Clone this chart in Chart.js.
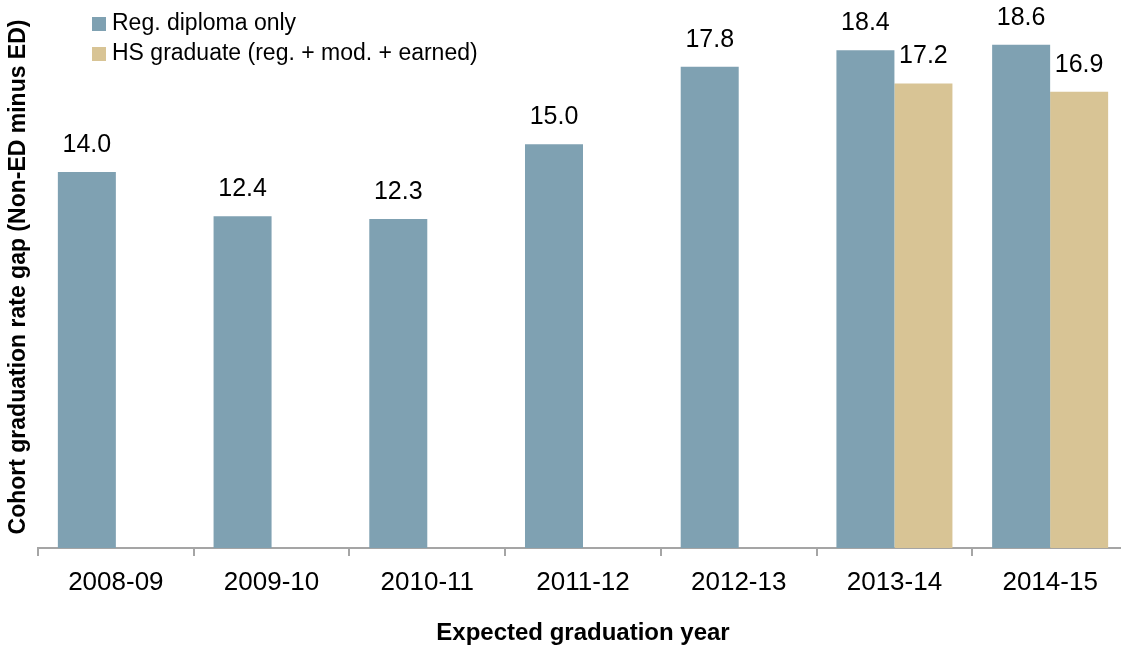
<!DOCTYPE html>
<html>
<head>
  <title>Cohort graduation rate gap</title>
  <script src="https://cdn.jsdelivr.net/npm/chart.js"></script>
  <style>
    body {
      margin: 0;
      background: #fff;
      overflow: hidden;
      font-family: "Liberation Sans", Arial, sans-serif;
    }
    #wrap {
      position: relative;
      width: 1128px;
      height: 646px;
    }
    #legend {
      position: absolute;
      left: 92px;
      top: 7px;
      font-size: 23px;
      color: #000;
    }
    #legend div {
      height: 30px;
      line-height: 30px;
      white-space: nowrap;
    }
    #legend span {
      display: inline-block;
      width: 14px;
      height: 14px;
      margin-right: 6px;
      vertical-align: -1px;
    }
  </style>
</head>
<body>
<div id="wrap">
  <canvas id="gapChart" width="1128" height="646"></canvas>
  <div id="legend"></div>
</div>

<script>
  // Expected graduation years
  const years = ["2008-09", "2009-10", "2010-11", "2011-12", "2012-13", "2013-14", "2014-15"];
  // Gap in percentage points, Non-ED minus ED
  const regDiploma = [14.0, 12.4, 12.3, 15.0, 17.8, 18.4, 18.6];
  const hsGraduate = [null, null, null, null, null, 17.2, 16.9];
  const seriesNames = ["Reg. diploma only", "HS graduate (reg. + mod. + earned)"];

  const colors = ["#7fa1b2", "#d8c495"];
  const font = '"Liberation Sans", Arial, sans-serif';

  // numbers above each bar
  const valueLabels = {
    id: "valueLabels",
    afterDatasetsDraw(chart) {
      const ctx = chart.ctx;
      ctx.save();
      ctx.font = "25px " + font;
      ctx.fillStyle = "#000";
      ctx.textAlign = "center";
      ctx.textBaseline = "alphabetic";
      chart.data.datasets.forEach((ds, i) => {
        chart.getDatasetMeta(i).data.forEach((bar, j) => {
          const v = ds.data[j];
          if (v == null) return;
          ctx.fillText(v.toFixed(1), bar.x, bar.y - 20);
        });
      });
      ctx.restore();
    }
  };

  const chart = new Chart(document.getElementById("gapChart").getContext("2d"), {
    type: "bar",
    data: {
      labels: years,
      datasets: [
        { label: seriesNames[0], data: regDiploma, backgroundColor: colors[0] },
        { label: seriesNames[1], data: hsGraduate, backgroundColor: colors[1] }
      ]
    },
    options: {
      responsive: false,
      animation: false,
      // bars of one year sit side by side, no gap
      categoryPercentage: 0.745,
      barPercentage: 1,
      layout: { padding: { left: 2, top: 6, right: 0, bottom: 0 } },
      plugins: {
        legend: { display: false },
        tooltip: { enabled: false }
      },
      scales: {
        x: {
          grid: {
            display: true,
            drawOnChartArea: false,
            drawTicks: true,
            tickLength: 8,
            offset: true,
            color: "#a5a5a5",
            lineWidth: 2
          },
          border: { display: true, color: "#a5a5a5", width: 2 },
          ticks: {
            color: "#000",
            padding: 11,
            font: { family: font, size: 26 }
          },
          title: {
            display: true,
            text: "Expected graduation year",
            color: "#000",
            padding: { top: 0, bottom: -2 },
            font: { family: font, size: 24, weight: "bold" }
          },
          afterFit: (s) => { s.height = 98; }
        },
        y: {
          min: 0.4,
          max: 20,
          grid: { display: false },
          border: { display: false },
          ticks: { display: false },
          title: {
            display: true,
            text: "Cohort graduation rate gap (Non-ED minus ED)",
            color: "#000",
            padding: { top: 3, bottom: 3 },
            font: { family: font, size: 23, weight: "bold" }
          },
          afterFit: (s) => { s.width = 36; }
        }
      }
    },
    plugins: [valueLabels]
  });

  // legend built from the datasets
  const legend = document.getElementById("legend");
  chart.data.datasets.forEach((ds) => {
    const row = document.createElement("div");
    row.innerHTML = '<span style="background:' + ds.backgroundColor + '"></span>' + ds.label;
    legend.appendChild(row);
  });
</script>
</body>
</html>
